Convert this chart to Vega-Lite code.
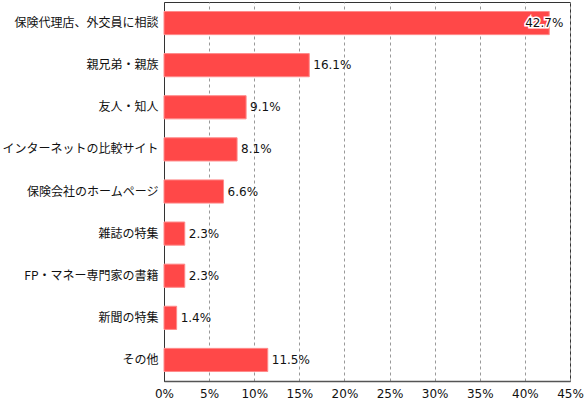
{
  "$schema": "https://vega.github.io/schema/vega-lite/v6.json",
  "width": 406,
  "height": 379,
  "autosize": "none",
  "padding": {"left": 164, "top": 2, "right": 15, "bottom": 20},
  "background": "#ffffff",
  "config": {
    "font": "Noto Sans CJK JP",
    "view": {"stroke": "#333333", "strokeWidth": 1}
  },
  "data": {
    "values": [
      {"source": "保険代理店、外交員に相談", "pct": 42.7, "label": "42.7%"},
      {"source": "親兄弟・親族", "pct": 16.1, "label": "16.1%"},
      {"source": "友人・知人", "pct": 9.1, "label": "9.1%"},
      {"source": "インターネットの比較サイト", "pct": 8.1, "label": "8.1%"},
      {"source": "保険会社のホームページ", "pct": 6.6, "label": "6.6%"},
      {"source": "雑誌の特集", "pct": 2.3, "label": "2.3%"},
      {"source": "FP・マネー専門家の書籍", "pct": 2.3, "label": "2.3%"},
      {"source": "新聞の特集", "pct": 1.4, "label": "1.4%"},
      {"source": "その他", "pct": 11.5, "label": "11.5%"}
    ]
  },
  "encoding": {
    "y": {
      "field": "source",
      "type": "nominal",
      "sort": null,
      "title": null,
      "scale": {"paddingInner": 0.45, "paddingOuter": 0.225},
      "axis": {
        "ticks": false,
        "domainColor": "#333333",
        "labelFontSize": 12,
        "labelColor": "#111111",
        "labelPadding": 6,
        "labelLimit": 200
      }
    },
    "x": {
      "field": "pct",
      "type": "quantitative",
      "title": null,
      "scale": {"domain": [0, 45], "nice": false},
      "axis": {
        "values": [0, 5, 10, 15, 20, 25, 30, 35, 40, 45],
        "labelExpr": "datum.value + '%'",
        "ticks": false,
        "domainColor": "#555555",
        "domainWidth": 1.5,
        "labelFont": "DejaVu Sans",
        "labelFontSize": 12,
        "labelColor": "#111111",
        "labelPadding": 7,
        "labelFlush": false,
        "grid": true,
        "gridColor": "#999999",
        "gridDash": [3, 3],
        "gridWidth": 1
      }
    }
  },
  "layer": [
    {
      "mark": {"type": "bar", "color": "#ff4848", "stroke": "#ff8a8a", "strokeWidth": 1}
    },
    {
      "transform": [{"filter": "datum.pct < 40"}],
      "mark": {"type": "text", "align": "left", "dx": 4, "font": "DejaVu Sans", "fontSize": 12, "color": "#111111"},
      "encoding": {"text": {"field": "label"}}
    },
    {
      "transform": [{"filter": "datum.pct >= 40"}],
      "mark": {"type": "text", "align": "center", "dx": -5, "font": "DejaVu Sans", "fontSize": 12, "color": "#111111", "stroke": "#ffffff", "strokeWidth": 3},
      "encoding": {"text": {"field": "label"}}
    },
    {
      "transform": [{"filter": "datum.pct >= 40"}],
      "mark": {"type": "text", "align": "center", "dx": -5, "font": "DejaVu Sans", "fontSize": 12, "color": "#111111"},
      "encoding": {"text": {"field": "label"}}
    }
  ]
}
